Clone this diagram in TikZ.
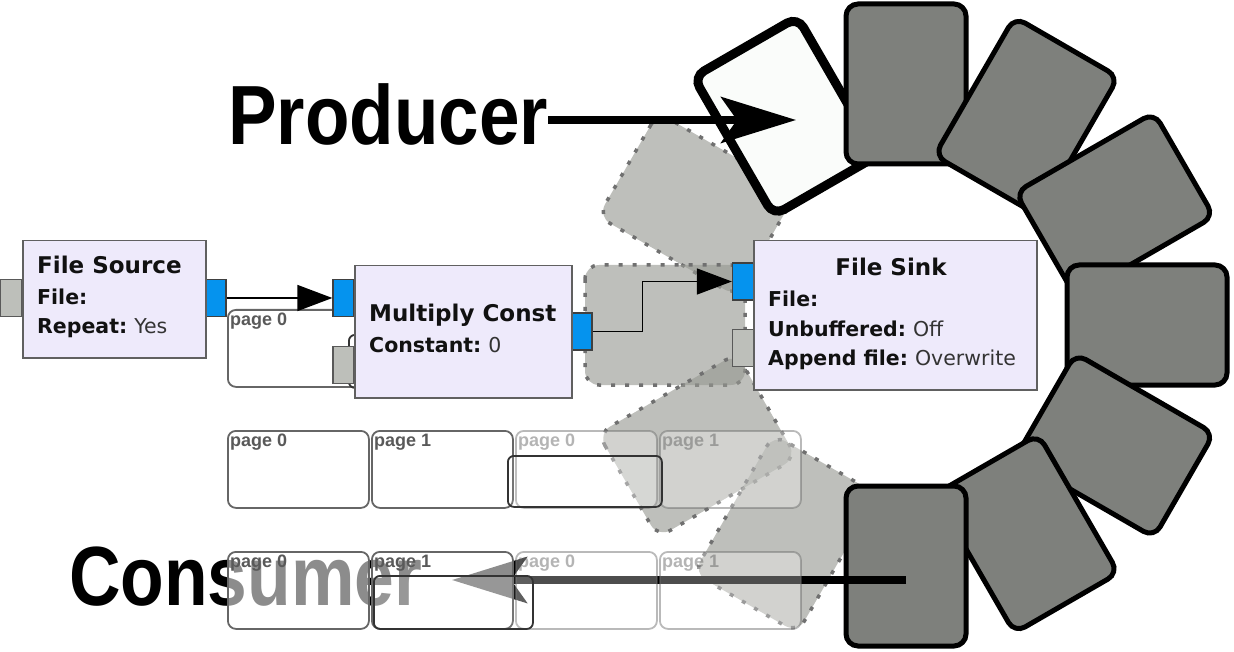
\documentclass[tikz,border=0pt]{standalone}
\usepackage{fontspec}
\usetikzlibrary{arrows.meta}
\newfontfamily\grfont{DejaVu Sans}
\newfontfamily\bigfont{Liberation Sans}
\definecolor{blockfill}{HTML}{EEEAFB}
\definecolor{blockdraw}{HTML}{606060}
\definecolor{portblue}{HTML}{0593EE}
\definecolor{portgray}{HTML}{BDBFBA}
\definecolor{ringgray}{HTML}{7E807C}
\definecolor{prodfill}{HTML}{FAFCFA}
\definecolor{ghostfill}{RGB}{150,152,145}
\definecolor{ghostdraw}{HTML}{707070}
\definecolor{pagedraw}{HTML}{666666}
\definecolor{pagelbl}{HTML}{595959}
\definecolor{valtext}{HTML}{333333}
\definecolor{keytext}{HTML}{111111}
\newcommand{\kv}[2]{{\bfseries #1}\hspace{7pt}\textcolor{valtext}{#2}}
\begin{document}
\begin{tikzpicture}[x=1pt,y=-1pt,
  ringbox/.style={rectangle, draw=black, line width=5pt, fill=ringgray, rounded corners=12pt,
    minimum width=120pt, minimum height=160pt, inner sep=0pt},
  prodbox/.style={ringbox, line width=9pt, fill=prodfill},
  ghostbox/.style={rectangle, draw=ghostdraw, line width=3.5pt, dash pattern=on 4pt off 10pt,
    fill=ghostfill, fill opacity=0.62, rounded corners=14pt,
    minimum width=120pt, minimum height=160pt, inner sep=0pt},
  pagebox/.style={rectangle, draw=pagedraw, line width=1.8pt, rounded corners=8pt, fill=white,
    fill opacity=0.55, minimum width=141pt, minimum height=77pt, inner sep=0pt, anchor=north west},
  fadedbox/.style={pagebox, draw opacity=0.45, fill opacity=0.3},
  overbox/.style={rectangle, draw=black!80, line width=1.8pt, rounded corners=6pt, fill=white,
    fill opacity=0.1, inner sep=0pt, anchor=north west},
  pagelabel/.style={anchor=base west, inner sep=0pt, text=pagelbl,
    font=\bigfont\bfseries\fontsize{18}{20}\selectfont},
  fadedlabel/.style={pagelabel, text opacity=0.45},
  block/.style={rectangle, draw=blockdraw, line width=1.5pt, fill=blockfill, inner sep=0pt, anchor=north west},
  bport/.style={rectangle, draw=black!75, line width=1.3pt, fill=portblue, minimum width=21pt,
    minimum height=37pt, inner sep=0pt},
  gport/.style={bport, draw=black!65, fill=portgray},
  lbl/.style={anchor=base west, inner sep=0pt, text=keytext, font=\grfont\fontsize{20.5}{24}\selectfont},
  ttl/.style={lbl, font=\grfont\bfseries\fontsize{23}{27}\selectfont},
  conn/.style={draw=black, line width=1.5pt, -{Triangle[length=35pt,width=26pt]}},
  bigtext/.style={anchor=base west, inner sep=0pt, text=black,
    font=\bigfont\bfseries\fontsize{84}{84}\selectfont},
  bigarrow/.style={draw=black, line width=7.5pt, -{Stealth[length=75pt,width=46pt,inset=16pt]}}
]
\useasboundingbox (0,0) rectangle (1234,652);

% ghost positions of the buffer ring
\foreach \a [count=\i] in {150,180,210,240}
  \node[ghostbox, rotate=\a-90] (g\i) at ({906+241*cos(\a)},{325-241*sin(\a)}) {};

% row 1 pages
\node[pagebox] (p10) at (227,309) {};
\node[pagelabel] (p10l) at (230,325) {page 0};
\node[overbox, minimum width=159pt, minimum height=53pt] (p1o) at (348,334) {};

% ports
\node[gport] (srcin) at (11,298) {};
\node[bport] (srcout) at (215.5,298) {};
\node[bport] (mulin) at (343.5,298) {};
\node[gport] (mulin2) at (343.5,365) {};
\node[bport] (mulout) at (581.5,331.5) {};
\node[bport] (sinkin) at (743,281.5) {};
\node[gport] (sinkin2) at (743,348) {};

% blocks
\node[block, minimum width=183pt, minimum height=117pt] (src) at (22,240) {};
\node[ttl] (srct) at (37,274) {File Source};
\node[lbl] (srcf) at (37,305) {\bfseries File:};
\node[lbl] (srcr) at (37,333) {\kv{Repeat:}{Yes}};

\node[block, minimum width=217pt, minimum height=132pt] (mul) at (354,265) {};
\node[ttl] (mult) at (369,322) {Multiply Const};
\node[lbl] (mulc) at (369,352) {\kv{Constant:}{0}};

\node[block, minimum width=283pt, minimum height=149pt] (sink) at (753,240) {};
\node[ttl, anchor=base] (sinkt) at (891,276) {File Sink};
\node[lbl] (sinkf) at (768,307) {\bfseries File:};
\node[lbl] (sinku) at (768,336) {\kv{Unbuffered:}{Off}};
\node[lbl] (sinka) at (768,365) {\kv{Append file:}{Overwrite}};

% connections
\draw[conn] (srcout.east) -- (mulin.west);
\draw[conn] (mulout.east) -- ++(50,0) |- (sinkin.west);

% row 2 pages
\node[pagebox] (p20) at (227,430) {};
\node[pagelabel] (p20l) at (230,446) {page 0};
\node[pagebox] (p21) at (371,430) {};
\node[pagelabel] (p21l) at (374,446) {page 1};
\node[fadedbox] (p22) at (515,430) {};
\node[fadedlabel] (p22l) at (518,446) {page 0};
\node[fadedbox] (p23) at (659,430) {};
\node[fadedlabel] (p23l) at (662,446) {page 1};
\node[overbox, minimum width=154pt, minimum height=51pt] (p2o) at (507,455) {};

% ring
\node[prodbox, rotate=30] (prod) at ({906+241*cos(120)},{325-241*sin(120)}) {};
\foreach \a [count=\i] in {90,60,30,0,-30,-60,-90}
  \node[ringbox, rotate=\a-90] (r\i) at ({906+241*cos(\a)},{325-241*sin(\a)}) {};

% producer
\node[bigtext, xscale=0.867] (prodtxt) at (228,145) {Producer};
\coordinate (ptip) at (796,120);
\draw[bigarrow] ([yshift=25pt]prodtxt.base east) -- (ptip);

% consumer
\node[bigtext, xscale=0.85] (constxt) at (69,605) {Consumer};
\coordinate (ctip) at (452,580);
\draw[bigarrow] ([yshift=-14pt]r7.center) -- (ctip);

% row 3 pages
\node[pagebox] (p30) at (227,551) {};
\node[pagelabel] (p30l) at (230,567) {page 0};
\node[pagebox] (p31) at (371,551) {};
\node[pagelabel] (p31l) at (374,567) {page 1};
\node[fadedbox] (p32) at (515,551) {};
\node[fadedlabel] (p32l) at (518,567) {page 0};
\node[fadedbox] (p33) at (659,551) {};
\node[fadedlabel] (p33l) at (662,567) {page 1};
\node[overbox, minimum width=159pt, minimum height=53pt] (p3o) at (373,575) {};
\end{tikzpicture}
\end{document}
